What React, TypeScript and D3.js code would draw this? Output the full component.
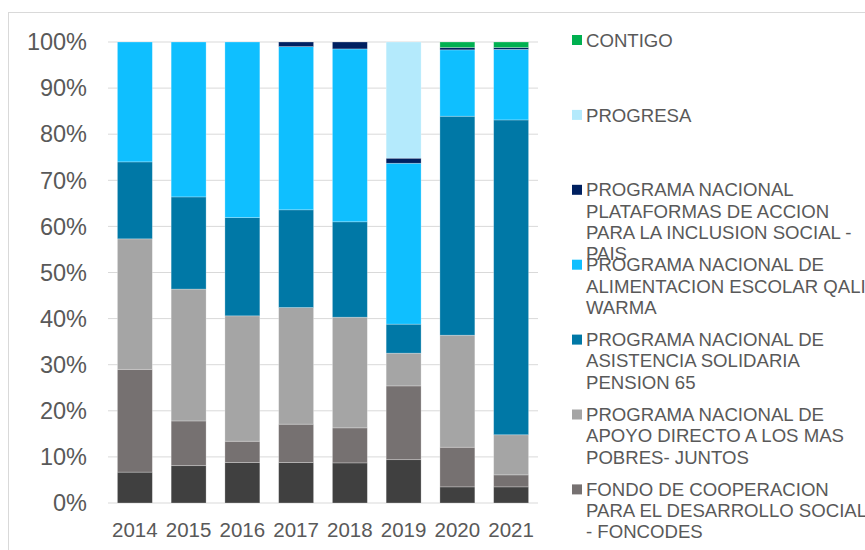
import React from "react";
import * as d3 from "d3";

const years = ["2014", "2015", "2016", "2017", "2018", "2019", "2020", "2021"];

// stacked bottom -> top (percent shares)
const cunaMas = [6.7, 8.1, 8.8, 8.8, 8.7, 9.4, 3.5, 3.5];
const foncodes = [22.3, 9.7, 4.6, 8.3, 7.6, 16.0, 8.6, 2.6];
const juntos = [28.3, 28.6, 27.2, 25.3, 24.0, 7.1, 24.3, 8.7];
const pension65 = [16.7, 20.0, 21.3, 21.2, 20.7, 6.3, 47.5, 68.3];
const qaliWarma = [26.0, 33.6, 38.1, 35.4, 37.5, 34.9, 14.4, 15.3];
const pais = [0, 0, 0, 1.0, 1.5, 1.1, 0.5, 0.4];
const progresa = [0, 0, 0, 0, 0, 25.2, 0, 0];
const contigo = [0, 0, 0, 0, 0, 0, 1.2, 1.2];

const seriesKeys = ["cunaMas", "foncodes", "juntos", "pension65", "qaliWarma", "pais", "progresa", "contigo"];
const seriesValues = [cunaMas, foncodes, juntos, pension65, qaliWarma, pais, progresa, contigo];
const seriesColors = ["#404040", "#767171", "#A5A5A5", "#0078A6", "#0FBFFF", "#002060", "#B4EAFC", "#00B050"];

// legend order top -> bottom (the last entry lies below the visible area)
const legendKeys = ["contigo", "progresa", "pais", "qaliWarma", "pension65", "juntos", "foncodes", "cunaMas"];
const legendLabels = [
  ["CONTIGO"],
  ["PROGRESA"],
  ["PROGRAMA NACIONAL", "PLATAFORMAS DE ACCION", "PARA LA INCLUSION SOCIAL -", "PAIS"],
  ["PROGRAMA NACIONAL DE", "ALIMENTACION ESCOLAR QALI", "WARMA"],
  ["PROGRAMA NACIONAL DE", "ASISTENCIA SOLIDARIA", "PENSION 65"],
  ["PROGRAMA NACIONAL DE", "APOYO DIRECTO A LOS MAS", "POBRES- JUNTOS"],
  ["FONDO DE COOPERACION", "PARA EL DESARROLLO SOCIAL", "- FONCODES"],
  ["PROGRAMA NACIONAL CUNA MAS"],
];

const yTicks = [0, 0.1, 0.2, 0.3, 0.4, 0.5, 0.6, 0.7, 0.8, 0.9, 1.0];

export default function App() {
  const W = 865;
  const H = 550;
  const x = d3.scaleBand().domain(years).range([108, 538]).paddingInner(0.35).paddingOuter(0.175);
  const y = d3.scaleLinear().domain([0, 1]).range([503, 42]);

  const rows = years.map((yr, i) => {
    const r: any = { year: yr };
    seriesKeys.forEach((k, j) => (r[k] = seriesValues[j][i]));
    return r;
  });
  const stack = d3.stack<any>().keys(seriesKeys).offset(d3.stackOffsetExpand);
  const stacked = stack(rows);

  const font = "Liberation Sans, Arial, sans-serif";
  const textColor = "#595959";

  return (
    <svg width={W} height={H} style={{ position: "absolute", left: 0, top: 0 }} fontFamily={font}>
      <rect x={0} y={0} width={W} height={H} fill="#fff" />
      <rect x={8.5} y={12.5} width={W + 10} height={H + 10} fill="none" stroke="#D9D9D9" strokeWidth={1} />
      {yTicks.map((t) => (
        <g key={t}>
          <line x1={108} x2={538} y1={y(t)} y2={y(t)} stroke="#D9D9D9" strokeWidth={1} />
          <text x={87} y={y(t)} dy="0.35em" textAnchor="end" fontSize={23.5} fill={textColor}>
            {d3.format(".0%")(t)}
          </text>
        </g>
      ))}
      {stacked.map((s, j) => (
        <g key={s.key} fill={seriesColors[j]}>
          {s.map((d, i) =>
            d[1] - d[0] > 0 ? (
              <rect
                key={i}
                x={x(years[i])}
                width={x.bandwidth()}
                y={y(d[1])}
                height={y(d[0]) - y(d[1])}
                stroke="#ffffff"
                strokeOpacity={0.35}
                strokeWidth={0.75}
              />
            ) : null
          )}
        </g>
      ))}
      {years.map((yr) => (
        <text key={yr} x={(x(yr) as number) + x.bandwidth() / 2} y={537} textAnchor="middle" fontSize={20.5} fill={textColor}>
          {yr}
        </text>
      ))}
      {legendKeys.map((k, i) => {
        const j = seriesKeys.indexOf(k);
        const cy = 40 + i * 74.9;
        if (cy > H) return null;
        return (
          <g key={k}>
            <rect x={572} y={cy - 5} width={10} height={10} fill={seriesColors[j]} />
            {legendLabels[i].map((ln, li) => (
              <text key={li} x={586} y={cy + li * 21.2} dy="0.36em" fontSize={18.6} fill={textColor}>
                {ln}
              </text>
            ))}
          </g>
        );
      })}
    </svg>
  );
}
